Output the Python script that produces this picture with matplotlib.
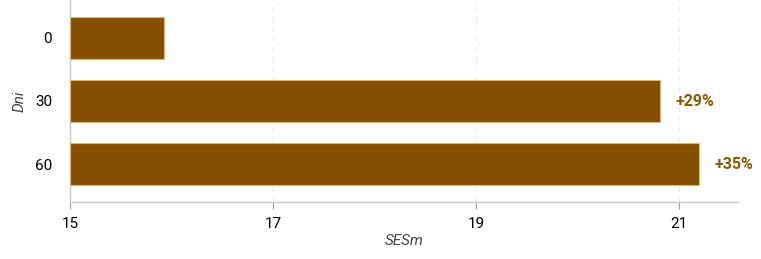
import matplotlib
matplotlib.use('Agg')
import matplotlib.pyplot as plt

# data
categories = ['0', '30', '60']
values = [15.93, 20.81, 21.20]
labels = ['', '+29%', '+35%']
x_ticks = [15, 17, 19, 21]

plt.rcParams['font.family'] = ['Roboto', 'DejaVu Sans']

fig = plt.figure(figsize=(7.61, 2.59), dpi=100)
ax = fig.add_axes([70 / 761, 57 / 259, 668 / 761, 202 / 259])

ypos = list(range(len(categories)))
ax.barh(ypos, [v - 15 for v in values], left=15, height=0.66,
        color='#845000', edgecolor='#d9b877', linewidth=0.8, zorder=3)

for y, v, lab in zip(ypos, values, labels):
    if lab:
        ax.text(v + 0.15, y, lab, va='center', ha='left',
                fontsize=11.5, fontweight='semibold', color='#8a5800')

ax.set_xlim(15, 21.58)
ax.set_ylim(2.6, -0.6)
ax.set_yticks(ypos)
ax.set_yticklabels(categories, fontsize=11)
ax.set_xticks(x_ticks)
ax.set_xticklabels([str(t) for t in x_ticks], fontsize=11)

ax.grid(True, axis='x', color='#ebebeb', linestyle=(0, (5, 4)), linewidth=0.8, zorder=0)
for s in ['top', 'right']:
    ax.spines[s].set_visible(False)
for s in ['left', 'bottom']:
    ax.spines[s].set_color('#c8c8c8')
    ax.spines[s].set_linewidth(1)

ax.tick_params(axis='y', length=0, pad=13)
ax.tick_params(axis='x', length=5, color='#999999', pad=6)

ax.set_xlabel('SESm', fontsize=11, style='italic', color='#444444', labelpad=2)
ax.set_ylabel('Dni', fontsize=11, style='italic', color='#444444', labelpad=6)

fig.savefig('out.png', dpi=100)
